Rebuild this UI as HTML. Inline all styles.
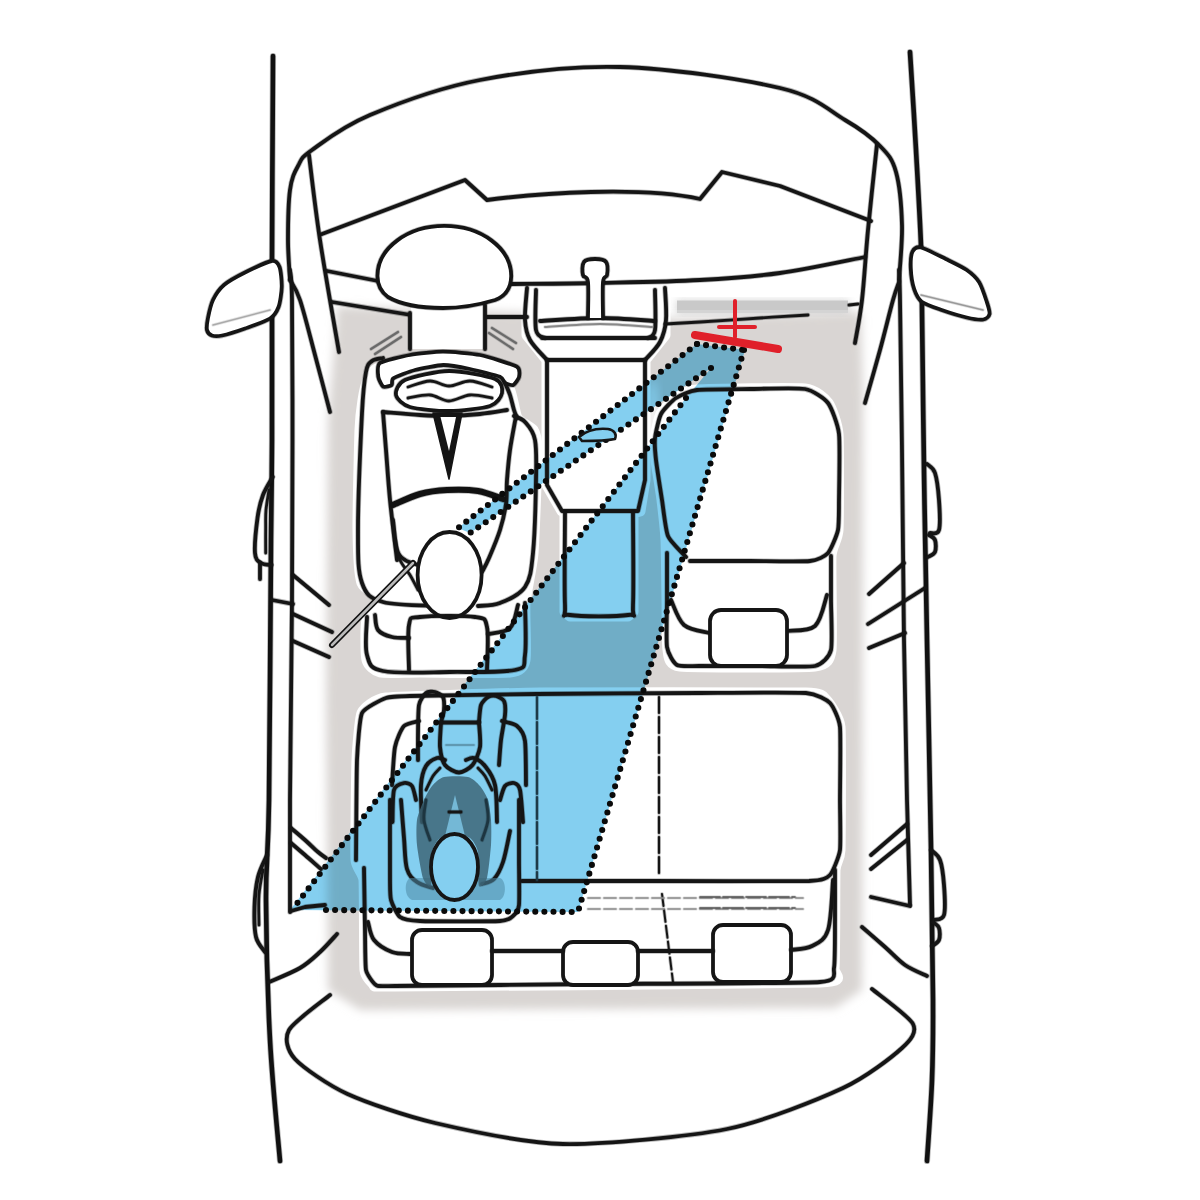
<!DOCTYPE html>
<html><head><meta charset="utf-8"><style>
html,body{margin:0;padding:0;background:#fff;width:1200px;height:1200px;overflow:hidden}
svg{display:block}
.k{fill:none;stroke:#151515;stroke-width:3.8;stroke-linecap:round;stroke-linejoin:round}
.kw{fill:#fff;stroke:#151515;stroke-width:3.8;stroke-linecap:round;stroke-linejoin:round}
.kt{fill:none;stroke:#151515;stroke-width:2.8;stroke-linecap:round;stroke-linejoin:round}
.kT{fill:none;stroke:#111;stroke-width:4.6;stroke-linecap:round;stroke-linejoin:round}
.d{fill:none;stroke:#0a0a0a;stroke-width:6.1;stroke-linecap:round;stroke-dasharray:0 9.1}
.w{fill:#fff;stroke:none}
.bm{mix-blend-mode:multiply}
</style></head><body>
<svg width="1200" height="1200" viewBox="0 0 1200 1200">
<defs>
<filter id="bl" x="-10%" y="-10%" width="120%" height="120%"><feGaussianBlur stdDeviation="5"/></filter>
<filter id="soft" x="0" y="0" width="100%" height="100%"><feGaussianBlur stdDeviation="0.75"/></filter>
<filter id="bl2" x="-20%" y="-20%" width="140%" height="140%"><feGaussianBlur stdDeviation="4"/></filter>
</defs>
<rect width="1200" height="1200" fill="#fff"/>
<g filter="url(#bl)">
<path d="M337.0,306.0 L672.0,318.0 L861.0,312.0 L863.0,400.0 L862.0,990.0 L835.0,1008.0 L360.0,1010.0 L328.0,990.0 L326.0,700.0 L328.0,420.0 L334.0,350.0Z" fill="#d9d5d3"/>
</g>
<rect x="676" y="300" width="173" height="14" fill="#c8c8c8" filter="url(#bl2)" opacity="0.7"/>
<rect x="677" y="300.5" width="171" height="12.5" fill="#c9c9c9"/>
<rect x="677" y="310" width="171" height="3" fill="#d4d4d4"/>
<ellipse cx="653" cy="425" rx="7" ry="45" fill="#f4f3f2" filter="url(#bl2)"/>
<path d="M380.0,368.0 C371.8,368.8 369.7,376.8 368.0,380.0 C366.3,383.2 363.8,395.0 363.0,400.0 C362.2,405.0 360.5,417.0 360.0,430.0 C359.5,443.0 357.8,514.7 358.0,530.0 C358.2,545.3 359.5,575.8 362.0,583.0 C364.5,590.2 382.5,598.3 383.0,602.0 C383.5,605.7 368.6,614.2 367.0,620.0 C365.4,625.8 365.7,654.8 367.0,660.0 C368.3,665.2 374.7,670.8 380.0,672.0 C385.3,673.2 407.0,672.0 420.0,672.0 C433.0,672.0 499.5,673.2 510.0,672.0 C520.5,670.8 523.5,666.9 525.0,660.0 C526.5,653.1 524.2,613.7 525.0,603.0 C525.8,592.3 531.8,568.3 533.0,553.0 C534.2,537.7 537.0,462.3 537.0,450.0 C537.0,437.7 535.0,433.2 533.0,430.0 C531.0,426.8 519.8,422.8 517.0,418.0 C514.2,413.2 511.7,386.6 505.0,382.0 C498.3,377.4 462.5,373.4 450.0,372.0 C437.5,370.6 388.2,367.2 380.0,368.0Z" fill="#fff" stroke="#fff" stroke-width="11" stroke-linejoin="round"/>
<path d="M697.0,390.0 C686.2,390.8 679.0,396.0 676.0,398.0 C673.0,400.0 662.8,410.7 661.0,414.0 C659.2,417.3 655.4,434.2 655.0,438.0 C654.6,441.8 655.4,454.8 656.0,460.0 C656.6,465.2 661.2,493.3 662.0,500.0 C662.8,506.7 665.6,531.7 666.0,540.0 C666.4,548.3 666.8,590.8 667.0,600.0 C667.2,609.2 666.9,644.5 668.0,650.0 C669.1,655.5 667.8,664.7 680.0,666.0 C692.2,667.3 802.4,667.3 815.0,666.0 C827.6,664.7 829.7,659.2 831.0,650.0 C832.3,640.8 830.4,566.0 831.0,556.0 C831.6,546.0 837.4,540.2 838.0,530.0 C838.6,519.8 838.8,444.6 838.0,434.0 C837.2,423.4 830.8,406.8 828.0,403.0 C825.2,399.2 815.9,390.1 805.0,389.0 C794.1,387.9 707.8,389.2 697.0,390.0Z" fill="#fff" stroke="#fff" stroke-width="11" stroke-linejoin="round"/>
<path d="M527.0,288.0 L665.0,288.0 L665.0,335.0 L645.0,360.0 L645.0,480.0 L640.0,511.0 L633.0,513.0 L633.0,612.0 L628.0,616.0 L570.0,616.0 L565.0,612.0 L565.0,513.0 L562.0,511.0 L547.0,485.0 L547.0,360.0 L527.0,335.0Z" fill="#fff" stroke="#fff" stroke-width="11" stroke-linejoin="round"/>
<path d="M386.0,698.0 C374.1,699.3 363.9,708.9 362.0,713.0 C360.1,717.1 357.4,750.2 357.0,760.0 C356.6,769.8 355.5,852.0 356.0,860.0 C356.5,868.0 363.4,872.7 364.0,880.0 C364.6,887.3 364.3,963.0 365.0,970.0 C365.7,977.0 373.0,983.9 375.0,985.0 C377.0,986.1 365.3,986.2 395.0,986.0 C424.7,985.8 790.7,983.2 820.0,982.0 C849.3,980.8 833.0,975.5 834.0,968.0 C835.0,960.5 834.6,877.9 835.0,870.0 C835.4,862.1 839.7,859.5 840.0,850.0 C840.3,840.5 840.9,737.0 840.0,727.0 C839.1,717.0 828.3,702.3 826.0,700.0 C823.7,697.7 825.1,693.5 806.0,693.0 C786.9,692.5 568.0,692.7 540.0,693.0 C512.0,693.3 397.9,696.7 386.0,698.0Z" fill="#fff" stroke="#fff" stroke-width="11" stroke-linejoin="round"/>
<g class="bm">
<path d="M697.0,344.0 L745.0,350.0 L578.0,912.0 L290.0,910.0 L686.0,398.0 L711.0,368.0Z M697.0,344.0 L711.0,368.0 L470.0,533.0 L458.0,528.0Z" fill="#84cff0" fill-rule="nonzero"/>
</g>
<path d="M273.0,56.0 C272.9,71.7 272.7,116.0 272.5,150.0 C272.3,184.0 272.1,211.7 272.0,260.0 C271.9,308.3 272.2,393.3 272.0,440.0 C271.8,486.7 271.5,480.0 271.0,540.0 C270.5,600.0 269.8,740.0 269.0,800.0 C268.2,860.0 265.8,860.0 266.0,900.0 C266.2,940.0 267.7,996.5 270.0,1040.0 C272.3,1083.5 278.3,1140.8 280.0,1161.0" style="fill:none;stroke:#151515;stroke-width:6.20;opacity:0.30;stroke-linecap:round;stroke-linejoin:round"/>
<path class="kT" d="M273.0,56.0 C272.9,71.7 272.7,116.0 272.5,150.0 C272.3,184.0 272.1,211.7 272.0,260.0 C271.9,308.3 272.2,393.3 272.0,440.0 C271.8,486.7 271.5,480.0 271.0,540.0 C270.5,600.0 269.8,740.0 269.0,800.0 C268.2,860.0 265.8,860.0 266.0,900.0 C266.2,940.0 267.7,996.5 270.0,1040.0 C272.3,1083.5 278.3,1140.8 280.0,1161.0"/>
<path d="M910.0,52.0 C911.0,68.3 914.2,117.7 916.0,150.0 C917.8,182.3 920.0,219.3 921.0,246.0 C922.0,272.7 921.5,272.7 922.0,310.0 C922.5,347.3 923.2,415.0 924.0,470.0 C924.8,525.0 925.8,577.0 927.0,640.0 C928.2,703.0 930.0,788.0 931.0,848.0 C932.0,908.0 932.8,961.3 933.0,1000.0 C933.2,1038.7 933.0,1053.2 932.0,1080.0 C931.0,1106.8 927.8,1147.5 927.0,1161.0" style="fill:none;stroke:#151515;stroke-width:6.20;opacity:0.30;stroke-linecap:round;stroke-linejoin:round"/>
<path class="kT" d="M910.0,52.0 C911.0,68.3 914.2,117.7 916.0,150.0 C917.8,182.3 920.0,219.3 921.0,246.0 C922.0,272.7 921.5,272.7 922.0,310.0 C922.5,347.3 923.2,415.0 924.0,470.0 C924.8,525.0 925.8,577.0 927.0,640.0 C928.2,703.0 930.0,788.0 931.0,848.0 C932.0,908.0 932.8,961.3 933.0,1000.0 C933.2,1038.7 933.0,1053.2 932.0,1080.0 C931.0,1106.8 927.8,1147.5 927.0,1161.0"/>
<path d="M290.0,280.0 C289.7,273.3 288.0,255.0 288.0,240.0 C288.0,225.0 288.3,202.3 290.0,190.0 C291.7,177.7 294.3,172.7 298.0,166.0 C301.7,159.3 300.0,158.5 312.0,150.0 C324.0,141.5 342.0,126.7 370.0,115.0 C398.0,103.3 438.3,88.0 480.0,80.0 C521.7,72.0 570.0,65.7 620.0,67.0 C670.0,68.3 742.5,79.2 780.0,88.0 C817.5,96.8 828.3,110.3 845.0,120.0 C861.7,129.7 871.5,137.3 880.0,146.0 C888.5,154.7 892.3,158.8 896.0,172.0 C899.7,185.2 901.5,207.0 902.0,225.0 C902.5,243.0 899.5,270.8 899.0,280.0" style="fill:none;stroke:#151515;stroke-width:5.40;opacity:0.30;stroke-linecap:round;stroke-linejoin:round"/>
<path class="k" d="M290.0,280.0 C289.7,273.3 288.0,255.0 288.0,240.0 C288.0,225.0 288.3,202.3 290.0,190.0 C291.7,177.7 294.3,172.7 298.0,166.0 C301.7,159.3 300.0,158.5 312.0,150.0 C324.0,141.5 342.0,126.7 370.0,115.0 C398.0,103.3 438.3,88.0 480.0,80.0 C521.7,72.0 570.0,65.7 620.0,67.0 C670.0,68.3 742.5,79.2 780.0,88.0 C817.5,96.8 828.3,110.3 845.0,120.0 C861.7,129.7 871.5,137.3 880.0,146.0 C888.5,154.7 892.3,158.8 896.0,172.0 C899.7,185.2 901.5,207.0 902.0,225.0 C902.5,243.0 899.5,270.8 899.0,280.0"/>
<path d="M290.0,270.0 C290.3,275.0 291.6,271.7 292.0,300.0 C292.4,328.3 292.5,390.0 292.5,440.0 C292.5,490.0 292.4,540.0 292.0,600.0 C291.6,660.0 290.3,748.0 290.0,800.0 C289.7,852.0 290.0,893.3 290.0,912.0" style="fill:none;stroke:#151515;stroke-width:5.40;opacity:0.30;stroke-linecap:round;stroke-linejoin:round"/>
<path class="k" d="M290.0,270.0 C290.3,275.0 291.6,271.7 292.0,300.0 C292.4,328.3 292.5,390.0 292.5,440.0 C292.5,490.0 292.4,540.0 292.0,600.0 C291.6,660.0 290.3,748.0 290.0,800.0 C289.7,852.0 290.0,893.3 290.0,912.0"/>
<path d="M899.0,270.0 C899.2,275.0 899.5,270.0 900.0,300.0 C900.5,330.0 901.3,393.3 902.0,450.0 C902.7,506.7 903.2,581.7 904.0,640.0 C904.8,698.3 906.0,755.8 907.0,800.0 C908.0,844.2 909.5,887.5 910.0,905.0" style="fill:none;stroke:#151515;stroke-width:5.40;opacity:0.30;stroke-linecap:round;stroke-linejoin:round"/>
<path class="k" d="M899.0,270.0 C899.2,275.0 899.5,270.0 900.0,300.0 C900.5,330.0 901.3,393.3 902.0,450.0 C902.7,506.7 903.2,581.7 904.0,640.0 C904.8,698.3 906.0,755.8 907.0,800.0 C908.0,844.2 909.5,887.5 910.0,905.0"/>
<path d="M290.0,280.0 C291.7,283.3 295.8,287.5 300.0,300.0 C304.2,312.5 310.0,336.3 315.0,355.0 C320.0,373.7 327.5,402.5 330.0,412.0" style="fill:none;stroke:#151515;stroke-width:5.40;opacity:0.30;stroke-linecap:round;stroke-linejoin:round"/>
<path class="k" d="M290.0,280.0 C291.7,283.3 295.8,287.5 300.0,300.0 C304.2,312.5 310.0,336.3 315.0,355.0 C320.0,373.7 327.5,402.5 330.0,412.0"/>
<path d="M899.0,282.0 C898.0,285.0 896.2,288.7 893.0,300.0 C889.8,311.3 884.7,332.8 880.0,350.0 C875.3,367.2 867.5,394.2 865.0,403.0" style="fill:none;stroke:#151515;stroke-width:5.40;opacity:0.30;stroke-linecap:round;stroke-linejoin:round"/>
<path class="k" d="M899.0,282.0 C898.0,285.0 896.2,288.7 893.0,300.0 C889.8,311.3 884.7,332.8 880.0,350.0 C875.3,367.2 867.5,394.2 865.0,403.0"/>
<path d="M309.0,155.0 C310.8,169.2 315.0,207.2 320.0,240.0 C325.0,272.8 335.8,333.3 339.0,352.0" style="fill:none;stroke:#151515;stroke-width:5.40;opacity:0.30;stroke-linecap:round;stroke-linejoin:round"/>
<path class="k" d="M309.0,155.0 C310.8,169.2 315.0,207.2 320.0,240.0 C325.0,272.8 335.8,333.3 339.0,352.0"/>
<path d="M877.0,144.0 C875.5,158.3 870.5,204.0 868.0,230.0 C865.5,256.0 864.2,281.2 862.0,300.0 C859.8,318.8 856.2,335.8 855.0,343.0" style="fill:none;stroke:#151515;stroke-width:5.40;opacity:0.30;stroke-linecap:round;stroke-linejoin:round"/>
<path class="k" d="M877.0,144.0 C875.5,158.3 870.5,204.0 868.0,230.0 C865.5,256.0 864.2,281.2 862.0,300.0 C859.8,318.8 856.2,335.8 855.0,343.0"/>
<path d="M322.0,234.0 L465.0,180.0 L487.0,200.0  C540,193 640,186 700,199 L722,172 L780,186 L871,221" style="fill:none;stroke:#151515;stroke-width:5.40;opacity:0.30;stroke-linecap:round;stroke-linejoin:round"/>
<path class="k" d="M322.0,234.0 L465.0,180.0 L487.0,200.0  C540,193 640,186 700,199 L722,172 L780,186 L871,221"/>
<path d="M327.0,271.0 L378.0,281.0" style="fill:none;stroke:#151515;stroke-width:5.40;opacity:0.30;stroke-linecap:round;stroke-linejoin:round"/>
<path class="k" d="M327.0,271.0 L378.0,281.0"/>
<path d="M510.0,284.0 C525.0,283.8 568.3,283.7 600.0,283.0 C631.7,282.3 670.0,281.7 700.0,280.0 C730.0,278.3 752.5,276.8 780.0,273.0 C807.5,269.2 850.8,259.7 865.0,257.0" style="fill:none;stroke:#151515;stroke-width:5.40;opacity:0.30;stroke-linecap:round;stroke-linejoin:round"/>
<path class="k" d="M510.0,284.0 C525.0,283.8 568.3,283.7 600.0,283.0 C631.7,282.3 670.0,281.7 700.0,280.0 C730.0,278.3 752.5,276.8 780.0,273.0 C807.5,269.2 850.8,259.7 865.0,257.0"/>
<path d="M332.0,302.0 L411.0,315.0" style="fill:none;stroke:#151515;stroke-width:5.40;opacity:0.30;stroke-linecap:round;stroke-linejoin:round"/>
<path class="k" d="M332.0,302.0 L411.0,315.0"/>
<path d="M485.0,317.0 L527.0,317.0" style="fill:none;stroke:#151515;stroke-width:5.40;opacity:0.30;stroke-linecap:round;stroke-linejoin:round"/>
<path class="k" d="M485.0,317.0 L527.0,317.0"/>
<path d="M665.0,324.0 C670.8,323.7 684.2,323.0 700.0,322.0 C715.8,321.0 742.0,319.2 760.0,318.0 C778.0,316.8 800.0,315.5 808.0,315.0" style="fill:none;stroke:#151515;stroke-width:4.40;opacity:0.30;stroke-linecap:round;stroke-linejoin:round"/>
<path class="kt" d="M665.0,324.0 C670.8,323.7 684.2,323.0 700.0,322.0 C715.8,321.0 742.0,319.2 760.0,318.0 C778.0,316.8 800.0,315.5 808.0,315.0"/>
<path d="M849,305 L858,304" style="fill:none;stroke:#151515;stroke-width:4.40;opacity:0.30;stroke-linecap:round;stroke-linejoin:round"/>
<path class="kt" d="M849,305 L858,304"/>
<path d="M271.7,261.0 C267.1,261.7 251.4,269.3 245.0,272.5 C238.6,275.7 228.3,281.3 224.0,285.0 C219.7,288.7 215.1,295.6 213.0,300.0 C210.9,304.4 208.8,314.0 208.0,318.0 C207.2,322.0 206.5,327.7 207.0,330.0 C207.5,332.3 210.0,334.8 212.0,335.5 C214.0,336.2 217.6,336.4 222.0,335.5 C226.4,334.6 238.6,330.8 245.0,328.5 C251.4,326.2 265.5,321.4 270.0,318.5 C274.5,315.6 276.9,311.2 278.5,307.0 C280.1,302.8 281.6,292.0 281.7,286.7 C281.8,281.4 280.8,270.4 279.5,267.0 C278.2,263.6 276.3,260.3 271.7,261.0Z" style="fill:none;stroke:#151515;stroke-width:5.40;opacity:0.30;stroke-linecap:round;stroke-linejoin:round"/>
<path class="kw" d="M271.7,261.0 C267.1,261.7 251.4,269.3 245.0,272.5 C238.6,275.7 228.3,281.3 224.0,285.0 C219.7,288.7 215.1,295.6 213.0,300.0 C210.9,304.4 208.8,314.0 208.0,318.0 C207.2,322.0 206.5,327.7 207.0,330.0 C207.5,332.3 210.0,334.8 212.0,335.5 C214.0,336.2 217.6,336.4 222.0,335.5 C226.4,334.6 238.6,330.8 245.0,328.5 C251.4,326.2 265.5,321.4 270.0,318.5 C274.5,315.6 276.9,311.2 278.5,307.0 C280.1,302.8 281.6,292.0 281.7,286.7 C281.8,281.4 280.8,270.4 279.5,267.0 C278.2,263.6 276.3,260.3 271.7,261.0Z"/>
<path d="M213,325 L270,310" style="fill:none;stroke:#aaa;stroke-width:3.10;opacity:0.30;stroke-linecap:round;stroke-linejoin:round"/>
<path class="kt" d="M213,325 L270,310" style="stroke:#aaa;stroke-width:1.5"/>
<path d="M921.0,247.5 C925.4,248.5 939.7,256.0 945.8,259.0 C951.9,262.0 962.3,266.9 966.7,270.0 C971.1,273.1 976.3,277.8 979.0,282.0 C981.7,286.2 985.3,297.4 986.7,301.7 C988.1,306.0 990.0,311.6 989.5,314.0 C989.0,316.4 986.3,319.0 983.3,319.5 C980.3,320.0 972.2,318.8 966.7,317.5 C961.2,316.2 947.7,312.1 941.7,310.0 C935.7,307.9 925.4,304.5 921.7,301.7 C918.0,298.9 915.7,293.7 914.2,289.2 C912.7,284.7 911.0,273.3 910.8,268.3 C910.6,263.3 911.1,254.5 912.5,251.7 C913.9,248.9 916.6,246.5 921.0,247.5Z" style="fill:none;stroke:#151515;stroke-width:5.40;opacity:0.30;stroke-linecap:round;stroke-linejoin:round"/>
<path class="kw" d="M921.0,247.5 C925.4,248.5 939.7,256.0 945.8,259.0 C951.9,262.0 962.3,266.9 966.7,270.0 C971.1,273.1 976.3,277.8 979.0,282.0 C981.7,286.2 985.3,297.4 986.7,301.7 C988.1,306.0 990.0,311.6 989.5,314.0 C989.0,316.4 986.3,319.0 983.3,319.5 C980.3,320.0 972.2,318.8 966.7,317.5 C961.2,316.2 947.7,312.1 941.7,310.0 C935.7,307.9 925.4,304.5 921.7,301.7 C918.0,298.9 915.7,293.7 914.2,289.2 C912.7,284.7 911.0,273.3 910.8,268.3 C910.6,263.3 911.1,254.5 912.5,251.7 C913.9,248.9 916.6,246.5 921.0,247.5Z"/>
<path d="M921,295 L983,310" style="fill:none;stroke:#999;stroke-width:3.10;opacity:0.30;stroke-linecap:round;stroke-linejoin:round"/>
<path class="kt" d="M921,295 L983,310" style="stroke:#999;stroke-width:1.5"/>
<path class="w" d="M411,300 L485,300 L485,349 L411,349 Z"/>
<path d="M377.5,276 A66.8,50 0 0 1 511.2,276 C511,288 506,296 495,300 C475,306 460,308 443,308 C420,308 400,304 388,297 C380,291 377.5,284 377.5,276 Z" style="fill:none;stroke:#151515;stroke-width:5.40;opacity:0.30;stroke-linecap:round;stroke-linejoin:round"/>
<path class="kw" d="M377.5,276 A66.8,50 0 0 1 511.2,276 C511,288 506,296 495,300 C475,306 460,308 443,308 C420,308 400,304 388,297 C380,291 377.5,284 377.5,276 Z"/>
<path d="M410.0,313.0 L410.0,349.0" style="fill:none;stroke:#151515;stroke-width:5.40;opacity:0.30;stroke-linecap:round;stroke-linejoin:round"/>
<path class="k" d="M410.0,313.0 L410.0,349.0"/>
<path d="M485.0,305.0 L485.0,349.0" style="fill:none;stroke:#151515;stroke-width:5.40;opacity:0.30;stroke-linecap:round;stroke-linejoin:round"/>
<path class="k" d="M485.0,305.0 L485.0,349.0"/>
<path d="M527.0,288.0 C526.7,293.3 524.5,311.3 525.0,320.0 C525.5,328.7 526.3,333.3 530.0,340.0 C533.7,346.7 544.2,356.7 547.0,360.0" style="fill:none;stroke:#151515;stroke-width:5.40;opacity:0.30;stroke-linecap:round;stroke-linejoin:round"/>
<path class="k" d="M527.0,288.0 C526.7,293.3 524.5,311.3 525.0,320.0 C525.5,328.7 526.3,333.3 530.0,340.0 C533.7,346.7 544.2,356.7 547.0,360.0"/>
<path d="M665.0,288.0 C665.2,293.3 666.8,311.0 666.0,320.0 C665.2,329.0 663.5,335.3 660.0,342.0 C656.5,348.7 647.5,357.0 645.0,360.0" style="fill:none;stroke:#151515;stroke-width:5.40;opacity:0.30;stroke-linecap:round;stroke-linejoin:round"/>
<path class="k" d="M665.0,288.0 C665.2,293.3 666.8,311.0 666.0,320.0 C665.2,329.0 663.5,335.3 660.0,342.0 C656.5,348.7 647.5,357.0 645.0,360.0"/>
<path d="M536.0,290.0 C536.0,296.7 534.5,322.0 536.0,330.0 C537.5,338.0 543.5,336.7 545.0,338.0" style="fill:none;stroke:#151515;stroke-width:5.40;opacity:0.30;stroke-linecap:round;stroke-linejoin:round"/>
<path class="k" d="M536.0,290.0 C536.0,296.7 534.5,322.0 536.0,330.0 C537.5,338.0 543.5,336.7 545.0,338.0"/>
<path d="M655.0,290.0 C655.0,296.7 656.2,322.0 655.0,330.0 C653.8,338.0 649.2,336.7 648.0,338.0" style="fill:none;stroke:#151515;stroke-width:5.40;opacity:0.30;stroke-linecap:round;stroke-linejoin:round"/>
<path class="k" d="M655.0,290.0 C655.0,296.7 656.2,322.0 655.0,330.0 C653.8,338.0 649.2,336.7 648.0,338.0"/>
<path d="M540.0,321.0 C550.0,320.5 580.8,318.0 600.0,318.0 C619.2,318.0 645.8,320.5 655.0,321.0" style="fill:none;stroke:#151515;stroke-width:5.40;opacity:0.30;stroke-linecap:round;stroke-linejoin:round"/>
<path class="k" d="M540.0,321.0 C550.0,320.5 580.8,318.0 600.0,318.0 C619.2,318.0 645.8,320.5 655.0,321.0"/>
<path d="M542.0,338.0 L655.0,338.0" style="fill:none;stroke:#151515;stroke-width:5.40;opacity:0.30;stroke-linecap:round;stroke-linejoin:round"/>
<path class="k" d="M542.0,338.0 L655.0,338.0"/>
<path d="M545.0,327.0 C554.2,326.5 582.2,324.0 600.0,324.0 C617.8,324.0 643.3,326.5 652.0,327.0" style="fill:none;stroke:#888;stroke-width:3.60;opacity:0.30;stroke-linecap:round;stroke-linejoin:round"/>
<path class="kt" d="M545.0,327.0 C554.2,326.5 582.2,324.0 600.0,324.0 C617.8,324.0 643.3,326.5 652.0,327.0" style="stroke:#888;stroke-width:2"/>
<path d="M588.0,318.0 C588.0,312.0 588.8,289.2 588.0,282.0 C587.2,274.8 583.7,278.3 583.0,275.0 C582.3,271.7 582.0,264.7 584.0,262.0 C586.0,259.3 591.3,259.0 595.0,259.0 C598.7,259.0 604.0,259.3 606.0,262.0 C608.0,264.7 607.5,271.7 607.0,275.0 C606.5,278.3 603.7,274.8 603.0,282.0 C602.3,289.2 603.0,312.0 603.0,318.0" style="fill:none;stroke:#151515;stroke-width:5.40;opacity:0.30;stroke-linecap:round;stroke-linejoin:round"/>
<path class="kw" d="M588.0,318.0 C588.0,312.0 588.8,289.2 588.0,282.0 C587.2,274.8 583.7,278.3 583.0,275.0 C582.3,271.7 582.0,264.7 584.0,262.0 C586.0,259.3 591.3,259.0 595.0,259.0 C598.7,259.0 604.0,259.3 606.0,262.0 C608.0,264.7 607.5,271.7 607.0,275.0 C606.5,278.3 603.7,274.8 603.0,282.0 C602.3,289.2 603.0,312.0 603.0,318.0"/>
<path d="M547.0,360.0 L645.0,360.0" style="fill:none;stroke:#151515;stroke-width:5.40;opacity:0.30;stroke-linecap:round;stroke-linejoin:round"/>
<path class="k" d="M547.0,360.0 L645.0,360.0"/>
<path d="M547.0,360.0 L547.0,485.0 L562.0,511.0 L638.0,511.0 L645.0,480.0 L645.0,360.0" style="fill:none;stroke:#151515;stroke-width:5.40;opacity:0.30;stroke-linecap:round;stroke-linejoin:round"/>
<path class="k" d="M547.0,360.0 L547.0,485.0 L562.0,511.0 L638.0,511.0 L645.0,480.0 L645.0,360.0"/>
<path d="M565.0,513.0 C565.0,528.3 564.2,588.0 565.0,605.0 C565.8,622.0 559.5,613.3 570.0,615.0 C580.5,616.7 617.5,616.7 628.0,615.0 C638.5,613.3 632.2,622.0 633.0,605.0 C633.8,588.0 633.0,528.3 633.0,513.0" style="fill:none;stroke:#151515;stroke-width:5.40;opacity:0.30;stroke-linecap:round;stroke-linejoin:round"/>
<path class="k" d="M565.0,513.0 C565.0,528.3 564.2,588.0 565.0,605.0 C565.8,622.0 559.5,613.3 570.0,615.0 C580.5,616.7 617.5,616.7 628.0,615.0 C638.5,613.3 632.2,622.0 633.0,605.0 C633.8,588.0 633.0,528.3 633.0,513.0"/>
<path d="M371,349 L398,332 M375,354 L401,337" style="fill:none;stroke:#6a6a6a;stroke-width:3.80;opacity:0.30;stroke-linecap:round;stroke-linejoin:round"/>
<path class="kt" d="M371,349 L398,332 M375,354 L401,337" style="stroke:#6a6a6a;stroke-width:2.2"/>
<path d="M489,333 L513,349 M492,328 L516,343" style="fill:none;stroke:#6a6a6a;stroke-width:3.80;opacity:0.30;stroke-linecap:round;stroke-linejoin:round"/>
<path class="kt" d="M489,333 L513,349 M492,328 L516,343" style="stroke:#6a6a6a;stroke-width:2.2"/>
<path d="M380.0,363.0 C383.2,360.8 403.7,356.1 410.0,355.0 C416.3,353.9 436.0,351.7 443.0,351.7 C450.0,351.7 472.6,353.5 480.0,355.0 C487.4,356.5 512.8,364.5 516.7,366.7 C520.6,368.9 519.3,375.2 519.0,377.0 C518.7,378.8 514.7,384.4 513.3,385.0 C511.9,385.6 506.3,383.8 505.0,383.0 C503.7,382.2 503.5,378.1 500.0,376.7 C496.5,375.3 475.7,370.2 470.0,369.0 C464.3,367.8 448.8,364.9 443.3,365.0 C437.8,365.1 420.0,368.7 415.0,370.0 C410.0,371.3 395.6,376.8 393.3,378.3 C391.0,379.8 392.7,384.2 391.7,385.0 C390.7,385.8 384.6,387.5 383.3,386.7 C382.0,385.9 378.6,379.1 378.3,376.7 C378.0,374.3 376.8,365.2 380.0,363.0Z" style="fill:none;stroke:#151515;stroke-width:5.40;opacity:0.30;stroke-linecap:round;stroke-linejoin:round"/>
<path class="kw" d="M380.0,363.0 C383.2,360.8 403.7,356.1 410.0,355.0 C416.3,353.9 436.0,351.7 443.0,351.7 C450.0,351.7 472.6,353.5 480.0,355.0 C487.4,356.5 512.8,364.5 516.7,366.7 C520.6,368.9 519.3,375.2 519.0,377.0 C518.7,378.8 514.7,384.4 513.3,385.0 C511.9,385.6 506.3,383.8 505.0,383.0 C503.7,382.2 503.5,378.1 500.0,376.7 C496.5,375.3 475.7,370.2 470.0,369.0 C464.3,367.8 448.8,364.9 443.3,365.0 C437.8,365.1 420.0,368.7 415.0,370.0 C410.0,371.3 395.6,376.8 393.3,378.3 C391.0,379.8 392.7,384.2 391.7,385.0 C390.7,385.8 384.6,387.5 383.3,386.7 C382.0,385.9 378.6,379.1 378.3,376.7 C378.0,374.3 376.8,365.2 380.0,363.0Z"/>
<path d="M396.0,395.0 C395.3,391.4 397.9,383.2 405.0,380.0 C412.1,376.8 437.0,371.1 449.0,371.0 C461.0,370.9 487.9,376.1 495.0,379.0 C502.1,381.9 502.7,389.4 502.0,393.0 C501.3,396.6 497.1,403.6 490.0,406.0 C482.9,408.4 459.7,410.9 449.0,411.0 C438.3,411.1 417.1,409.1 410.0,407.0 C402.9,404.9 396.7,398.6 396.0,395.0Z" style="fill:none;stroke:#151515;stroke-width:5.40;opacity:0.30;stroke-linecap:round;stroke-linejoin:round"/>
<path class="kw" d="M396.0,395.0 C395.3,391.4 397.9,383.2 405.0,380.0 C412.1,376.8 437.0,371.1 449.0,371.0 C461.0,370.9 487.9,376.1 495.0,379.0 C502.1,381.9 502.7,389.4 502.0,393.0 C501.3,396.6 497.1,403.6 490.0,406.0 C482.9,408.4 459.7,410.9 449.0,411.0 C438.3,411.1 417.1,409.1 410.0,407.0 C402.9,404.9 396.7,398.6 396.0,395.0Z"/>
<path d="M408.0,387.0 C411.7,386.0 423.2,381.2 430.0,381.0 C436.8,380.8 442.3,386.0 449.0,386.0 C455.7,386.0 462.8,380.8 470.0,381.0 C477.2,381.2 488.3,386.0 492.0,387.0" style="fill:none;stroke:#151515;stroke-width:4.40;opacity:0.30;stroke-linecap:round;stroke-linejoin:round"/>
<path class="kt" d="M408.0,387.0 C411.7,386.0 423.2,381.2 430.0,381.0 C436.8,380.8 442.3,386.0 449.0,386.0 C455.7,386.0 462.8,380.8 470.0,381.0 C477.2,381.2 488.3,386.0 492.0,387.0"/>
<path d="M408.0,398.0 C411.7,397.5 423.2,394.5 430.0,395.0 C436.8,395.5 442.3,401.0 449.0,401.0 C455.7,401.0 462.8,395.5 470.0,395.0 C477.2,394.5 488.3,397.5 492.0,398.0" style="fill:none;stroke:#151515;stroke-width:4.40;opacity:0.30;stroke-linecap:round;stroke-linejoin:round"/>
<path class="kt" d="M408.0,398.0 C411.7,397.5 423.2,394.5 430.0,395.0 C436.8,395.5 442.3,401.0 449.0,401.0 C455.7,401.0 462.8,395.5 470.0,395.0 C477.2,394.5 488.3,397.5 492.0,398.0"/>
<path d="M383.0,358.0 C381.2,358.5 374.8,358.7 372.0,361.0 C369.2,363.3 367.7,363.3 366.0,372.0 C364.3,380.7 363.3,386.7 362.0,413.0 C360.7,439.3 358.0,501.7 358.0,530.0 C358.0,558.3 357.8,571.0 362.0,583.0 C366.2,595.0 370.0,598.2 383.0,602.0 C396.0,605.8 430.5,605.3 440.0,606.0" style="fill:none;stroke:#151515;stroke-width:5.40;opacity:0.30;stroke-linecap:round;stroke-linejoin:round"/>
<path class="k" d="M383.0,358.0 C381.2,358.5 374.8,358.7 372.0,361.0 C369.2,363.3 367.7,363.3 366.0,372.0 C364.3,380.7 363.3,386.7 362.0,413.0 C360.7,439.3 358.0,501.7 358.0,530.0 C358.0,558.3 357.8,571.0 362.0,583.0 C366.2,595.0 370.0,598.2 383.0,602.0 C396.0,605.8 430.5,605.3 440.0,606.0"/>
<path d="M505.0,383.0 C505.8,385.0 508.5,390.5 510.0,395.0 C511.5,399.5 512.8,406.2 514.0,410.0 C515.2,413.8 516.5,416.7 517.0,418.0" style="fill:none;stroke:#151515;stroke-width:5.40;opacity:0.30;stroke-linecap:round;stroke-linejoin:round"/>
<path class="k" d="M505.0,383.0 C505.8,385.0 508.5,390.5 510.0,395.0 C511.5,399.5 512.8,406.2 514.0,410.0 C515.2,413.8 516.5,416.7 517.0,418.0"/>
<path d="M478.0,606.0 C481.7,605.5 492.2,606.2 500.0,603.0 C507.8,599.8 519.5,595.3 525.0,587.0 C530.5,578.7 531.2,570.8 533.0,553.0 C534.8,535.2 535.7,498.8 536.0,480.0 C536.3,461.2 536.8,449.7 535.0,440.0 C533.2,430.3 528.5,426.0 525.0,422.0 C521.5,418.0 515.8,417.0 514.0,416.0" style="fill:none;stroke:#151515;stroke-width:5.40;opacity:0.30;stroke-linecap:round;stroke-linejoin:round"/>
<path class="k" d="M478.0,606.0 C481.7,605.5 492.2,606.2 500.0,603.0 C507.8,599.8 519.5,595.3 525.0,587.0 C530.5,578.7 531.2,570.8 533.0,553.0 C534.8,535.2 535.7,498.8 536.0,480.0 C536.3,461.2 536.8,449.7 535.0,440.0 C533.2,430.3 528.5,426.0 525.0,422.0 C521.5,418.0 515.8,417.0 514.0,416.0"/>
<path d="M383.0,412.0 C383.5,418.3 384.8,435.3 386.0,450.0 C387.2,464.7 388.2,481.7 390.0,500.0 C391.8,518.3 395.8,550.0 397.0,560.0" style="fill:none;stroke:#151515;stroke-width:5.40;opacity:0.30;stroke-linecap:round;stroke-linejoin:round"/>
<path class="k" d="M383.0,412.0 C383.5,418.3 384.8,435.3 386.0,450.0 C387.2,464.7 388.2,481.7 390.0,500.0 C391.8,518.3 395.8,550.0 397.0,560.0"/>
<path d="M516.0,416.0 C515.0,421.7 511.5,439.3 510.0,450.0 C508.5,460.7 507.7,471.0 507.0,480.0 C506.3,489.0 507.2,495.7 506.0,504.0 C504.8,512.3 502.8,521.0 500.0,530.0 C497.2,539.0 492.0,551.0 489.0,558.0 C486.0,565.0 483.2,569.7 482.0,572.0" style="fill:none;stroke:#151515;stroke-width:5.40;opacity:0.30;stroke-linecap:round;stroke-linejoin:round"/>
<path class="k" d="M516.0,416.0 C515.0,421.7 511.5,439.3 510.0,450.0 C508.5,460.7 507.7,471.0 507.0,480.0 C506.3,489.0 507.2,495.7 506.0,504.0 C504.8,512.3 502.8,521.0 500.0,530.0 C497.2,539.0 492.0,551.0 489.0,558.0 C486.0,565.0 483.2,569.7 482.0,572.0"/>
<path d="M383.0,412.0 C389.2,412.5 408.8,414.3 420.0,415.0 C431.2,415.7 440.0,416.2 450.0,416.0 C460.0,415.8 470.5,415.0 480.0,414.0 C489.5,413.0 502.5,410.7 507.0,410.0" style="fill:none;stroke:#151515;stroke-width:5.40;opacity:0.30;stroke-linecap:round;stroke-linejoin:round"/>
<path class="k" d="M383.0,412.0 C389.2,412.5 408.8,414.3 420.0,415.0 C431.2,415.7 440.0,416.2 450.0,416.0 C460.0,415.8 470.5,415.0 480.0,414.0 C489.5,413.0 502.5,410.7 507.0,410.0"/>
<path d="M433,413 L449,479 L462,413 Z" fill="#141414" stroke="#141414" stroke-width="1.5" stroke-linejoin="round"/>
<path d="M440.5,417 L449,451 L456,417 Z" fill="#fff"/>
<path d="M393.0,505.0 C397.5,503.2 411.0,496.5 420.0,494.0 C429.0,491.5 437.3,490.5 447.0,490.0 C456.7,489.5 468.7,489.5 478.0,491.0 C487.3,492.5 498.8,497.7 503.0,499.0" style="fill:none;stroke:#151515;stroke-width:7.60;opacity:0.30;stroke-linecap:round;stroke-linejoin:round"/>
<path class="kT" d="M393.0,505.0 C397.5,503.2 411.0,496.5 420.0,494.0 C429.0,491.5 437.3,490.5 447.0,490.0 C456.7,489.5 468.7,489.5 478.0,491.0 C487.3,492.5 498.8,497.7 503.0,499.0" style="stroke-width:6"/>
<path d="M393.0,520.0 C393.7,525.0 395.0,543.3 397.0,550.0 C399.0,556.7 401.5,557.5 405.0,560.0 C408.5,562.5 415.8,564.2 418.0,565.0" style="fill:none;stroke:#151515;stroke-width:5.40;opacity:0.30;stroke-linecap:round;stroke-linejoin:round"/>
<path class="k" d="M393.0,520.0 C393.7,525.0 395.0,543.3 397.0,550.0 C399.0,556.7 401.5,557.5 405.0,560.0 C408.5,562.5 415.8,564.2 418.0,565.0"/>
<ellipse cx="449.6" cy="575" rx="32" ry="43" class="kw"/>
<path d="M367.0,617.0 C367.0,623.3 364.3,646.0 367.0,655.0 C369.7,664.0 369.2,668.2 383.0,671.0 C396.8,673.8 428.0,672.2 450.0,672.0 C472.0,671.8 502.5,672.8 515.0,670.0 C527.5,667.2 523.3,666.2 525.0,655.0 C526.7,643.8 525.0,611.7 525.0,603.0" style="fill:none;stroke:#151515;stroke-width:5.40;opacity:0.30;stroke-linecap:round;stroke-linejoin:round"/>
<path class="k" d="M367.0,617.0 C367.0,623.3 364.3,646.0 367.0,655.0 C369.7,664.0 369.2,668.2 383.0,671.0 C396.8,673.8 428.0,672.2 450.0,672.0 C472.0,671.8 502.5,672.8 515.0,670.0 C527.5,667.2 523.3,666.2 525.0,655.0 C526.7,643.8 525.0,611.7 525.0,603.0"/>
<path d="M395.0,540.0 C395.8,543.3 397.5,554.2 400.0,560.0 C402.5,565.8 407.0,570.0 410.0,575.0 C413.0,580.0 416.7,587.5 418.0,590.0" style="fill:none;stroke:#151515;stroke-width:4.40;opacity:0.30;stroke-linecap:round;stroke-linejoin:round"/>
<path class="kt" d="M395.0,540.0 C395.8,543.3 397.5,554.2 400.0,560.0 C402.5,565.8 407.0,570.0 410.0,575.0 C413.0,580.0 416.7,587.5 418.0,590.0"/>
<path d="M409.0,670.0 C409.0,662.5 407.2,633.8 409.0,625.0 C410.8,616.2 409.0,618.3 420.0,617.0 C431.0,615.7 463.8,615.3 475.0,617.0 C486.2,618.7 485.0,618.2 487.0,627.0 C489.0,635.8 487.0,662.8 487.0,670.0" style="fill:none;stroke:#151515;stroke-width:5.40;opacity:0.30;stroke-linecap:round;stroke-linejoin:round"/>
<path class="k" d="M409.0,670.0 C409.0,662.5 407.2,633.8 409.0,625.0 C410.8,616.2 409.0,618.3 420.0,617.0 C431.0,615.7 463.8,615.3 475.0,617.0 C486.2,618.7 485.0,618.2 487.0,627.0 C489.0,635.8 487.0,662.8 487.0,670.0"/>
<path d="M375.0,615.0 C375.5,617.5 375.2,626.3 378.0,630.0 C380.8,633.7 386.8,635.7 392.0,637.0 C397.2,638.3 406.2,637.8 409.0,638.0" style="fill:none;stroke:#151515;stroke-width:5.40;opacity:0.30;stroke-linecap:round;stroke-linejoin:round"/>
<path class="k" d="M375.0,615.0 C375.5,617.5 375.2,626.3 378.0,630.0 C380.8,633.7 386.8,635.7 392.0,637.0 C397.2,638.3 406.2,637.8 409.0,638.0"/>
<path d="M488.0,634.0 C491.7,633.0 505.0,632.8 510.0,628.0 C515.0,623.2 516.7,608.8 518.0,605.0" style="fill:none;stroke:#151515;stroke-width:5.40;opacity:0.30;stroke-linecap:round;stroke-linejoin:round"/>
<path class="k" d="M488.0,634.0 C491.7,633.0 505.0,632.8 510.0,628.0 C515.0,623.2 516.7,608.8 518.0,605.0"/>
<path d="M332,645 L413,563" stroke="#111" stroke-width="6" stroke-linecap="round" fill="none"/>
<path d="M332,645 L413,563" stroke="#bbb" stroke-width="2.5" stroke-linecap="round" fill="none"/>
<path d="M686.0,557.0 C684.2,554.9 670.4,541.7 668.0,536.0 C665.6,530.3 663.2,507.6 662.0,500.0 C660.8,492.4 656.7,466.2 656.0,460.0 C655.3,453.8 654.5,442.6 655.0,438.0 C655.5,433.4 658.9,418.0 661.0,414.0 C663.1,410.0 672.4,400.4 676.0,398.0 C679.6,395.6 689.6,390.9 697.0,390.0 C704.4,389.1 739.2,389.1 750.0,389.0 C760.8,388.9 797.2,387.6 805.0,389.0 C812.8,390.4 824.6,398.5 828.0,403.0 C831.4,407.5 837.9,424.3 839.0,434.0 C840.1,443.7 839.1,490.4 839.0,500.0 C838.9,509.6 839.1,524.7 838.0,530.0 C836.9,535.3 830.8,549.9 828.0,553.0 C825.2,556.1 817.8,560.2 810.0,561.0 C802.2,561.8 762.0,561.0 750.0,561.0 C738.0,561.0 696.0,561.0 690.0,561.0" style="fill:none;stroke:#151515;stroke-width:5.40;opacity:0.30;stroke-linecap:round;stroke-linejoin:round"/>
<path class="k" d="M686.0,557.0 C684.2,554.9 670.4,541.7 668.0,536.0 C665.6,530.3 663.2,507.6 662.0,500.0 C660.8,492.4 656.7,466.2 656.0,460.0 C655.3,453.8 654.5,442.6 655.0,438.0 C655.5,433.4 658.9,418.0 661.0,414.0 C663.1,410.0 672.4,400.4 676.0,398.0 C679.6,395.6 689.6,390.9 697.0,390.0 C704.4,389.1 739.2,389.1 750.0,389.0 C760.8,388.9 797.2,387.6 805.0,389.0 C812.8,390.4 824.6,398.5 828.0,403.0 C831.4,407.5 837.9,424.3 839.0,434.0 C840.1,443.7 839.1,490.4 839.0,500.0 C838.9,509.6 839.1,524.7 838.0,530.0 C836.9,535.3 830.8,549.9 828.0,553.0 C825.2,556.1 817.8,560.2 810.0,561.0 C802.2,561.8 762.0,561.0 750.0,561.0 C738.0,561.0 696.0,561.0 690.0,561.0"/>
<path d="M667.0,553.0 C667.0,557.7 667.0,590.6 667.0,600.0 C667.0,609.4 666.0,640.5 667.0,647.0 C668.0,653.5 673.7,663.1 677.0,665.0 C680.3,666.9 691.7,665.9 700.0,666.0 C708.3,666.1 748.5,666.0 760.0,666.0 C771.5,666.0 807.9,667.6 815.0,666.0 C822.1,664.4 829.4,656.6 831.0,650.0 C832.6,643.4 831.0,609.4 831.0,600.0 C831.0,590.6 831.0,560.4 831.0,556.0" style="fill:none;stroke:#151515;stroke-width:5.40;opacity:0.30;stroke-linecap:round;stroke-linejoin:round"/>
<path class="k" d="M667.0,553.0 C667.0,557.7 667.0,590.6 667.0,600.0 C667.0,609.4 666.0,640.5 667.0,647.0 C668.0,653.5 673.7,663.1 677.0,665.0 C680.3,666.9 691.7,665.9 700.0,666.0 C708.3,666.1 748.5,666.0 760.0,666.0 C771.5,666.0 807.9,667.6 815.0,666.0 C822.1,664.4 829.4,656.6 831.0,650.0 C832.6,643.4 831.0,609.4 831.0,600.0 C831.0,590.6 831.0,560.4 831.0,556.0"/>
<path d="M671.0,600.0 C673.2,604.2 677.7,619.5 684.0,625.0 C690.3,630.5 704.8,631.7 709.0,633.0" style="fill:none;stroke:#151515;stroke-width:5.40;opacity:0.30;stroke-linecap:round;stroke-linejoin:round"/>
<path class="k" d="M671.0,600.0 C673.2,604.2 677.7,619.5 684.0,625.0 C690.3,630.5 704.8,631.7 709.0,633.0"/>
<path d="M787.0,631.0 C791.7,630.2 808.3,632.0 815.0,626.0 C821.7,620.0 825.0,600.2 827.0,595.0" style="fill:none;stroke:#151515;stroke-width:5.40;opacity:0.30;stroke-linecap:round;stroke-linejoin:round"/>
<path class="k" d="M787.0,631.0 C791.7,630.2 808.3,632.0 815.0,626.0 C821.7,620.0 825.0,600.2 827.0,595.0"/>
<rect x="710" y="610" width="77" height="56" rx="11" class="kw"/>
<path d="M356.0,860.0 C356.1,851.7 356.5,772.2 357.0,760.0 C357.5,747.8 359.6,718.2 362.0,713.0 C364.4,707.8 382.0,699.4 386.0,698.0 C390.0,696.6 397.4,696.3 410.0,696.0 C422.6,695.7 512.8,694.2 537.0,694.0 C561.2,693.8 677.6,693.1 700.0,693.0 C722.4,692.9 795.2,692.2 806.0,693.0 C816.8,693.8 827.2,700.2 830.0,703.0 C832.8,705.8 839.2,718.9 840.0,727.0 C840.8,735.1 840.0,789.8 840.0,800.0 C840.0,810.2 840.8,843.8 840.0,850.0 C839.2,856.2 832.6,872.4 830.0,875.0 C827.4,877.6 824.0,880.5 809.0,881.0 C794.0,881.5 673.9,881.0 650.0,881.0 C626.1,881.0 532.7,881.0 522.0,881.0" style="fill:none;stroke:#151515;stroke-width:5.40;opacity:0.30;stroke-linecap:round;stroke-linejoin:round"/>
<path class="k" d="M356.0,860.0 C356.1,851.7 356.5,772.2 357.0,760.0 C357.5,747.8 359.6,718.2 362.0,713.0 C364.4,707.8 382.0,699.4 386.0,698.0 C390.0,696.6 397.4,696.3 410.0,696.0 C422.6,695.7 512.8,694.2 537.0,694.0 C561.2,693.8 677.6,693.1 700.0,693.0 C722.4,692.9 795.2,692.2 806.0,693.0 C816.8,693.8 827.2,700.2 830.0,703.0 C832.8,705.8 839.2,718.9 840.0,727.0 C840.8,735.1 840.0,789.8 840.0,800.0 C840.0,810.2 840.8,843.8 840.0,850.0 C839.2,856.2 832.6,872.4 830.0,875.0 C827.4,877.6 824.0,880.5 809.0,881.0 C794.0,881.5 673.9,881.0 650.0,881.0 C626.1,881.0 532.7,881.0 522.0,881.0"/>
<path d="M659,697 L659,874" style="fill:none;stroke:#151515;stroke-width:3.80;opacity:0.30;stroke-linecap:round;stroke-linejoin:round;stroke-dasharray:16 4"/>
<path class="kt" d="M659,697 L659,874" style="stroke-dasharray:16 4;stroke-width:2.2"/>
<path d="M537,697 L537,880" style="fill:none;stroke:#1e3a48;stroke-width:3.80;opacity:0.30;stroke-linecap:round;stroke-linejoin:round;stroke-dasharray:22 3"/>
<path class="kt" d="M537,697 L537,880" style="stroke-dasharray:22 3;stroke-width:2.2;stroke:#1e3a48"/>
<path d="M364.0,868.0 C364.1,873.2 364.8,921.5 365.0,930.0 C365.2,938.5 365.1,965.4 366.0,970.0 C366.9,974.6 373.6,983.7 376.0,985.0 C378.4,986.3 376.3,986.1 395.0,986.0 C413.7,985.9 564.6,984.3 600.0,984.0 C635.4,983.7 800.5,983.3 820.0,982.0 C839.5,980.7 832.8,973.2 834.0,968.0 C835.2,962.8 834.9,928.2 835.0,920.0 C835.1,911.8 835.0,874.2 835.0,870.0" style="fill:none;stroke:#151515;stroke-width:5.40;opacity:0.30;stroke-linecap:round;stroke-linejoin:round"/>
<path class="k" d="M364.0,868.0 C364.1,873.2 364.8,921.5 365.0,930.0 C365.2,938.5 365.1,965.4 366.0,970.0 C366.9,974.6 373.6,983.7 376.0,985.0 C378.4,986.3 376.3,986.1 395.0,986.0 C413.7,985.9 564.6,984.3 600.0,984.0 C635.4,983.7 800.5,983.3 820.0,982.0 C839.5,980.7 832.8,973.2 834.0,968.0 C835.2,962.8 834.9,928.2 835.0,920.0 C835.1,911.8 835.0,874.2 835.0,870.0"/>
<path d="M368.0,922.0 C369.0,925.0 370.0,935.0 374.0,940.0 C378.0,945.0 386.0,949.7 392.0,952.0 C398.0,954.3 407.0,953.7 410.0,954.0" style="fill:none;stroke:#151515;stroke-width:5.40;opacity:0.30;stroke-linecap:round;stroke-linejoin:round"/>
<path class="k" d="M368.0,922.0 C369.0,925.0 370.0,935.0 374.0,940.0 C378.0,945.0 386.0,949.7 392.0,952.0 C398.0,954.3 407.0,953.7 410.0,954.0"/>
<rect x="412" y="930" width="80" height="55" rx="10" class="kw"/>
<rect x="563" y="942" width="75" height="43" rx="10" class="kw"/>
<rect x="713" y="925" width="78" height="57" rx="10" class="kw"/>
<path d="M492,951 L563,951 M638,951 L713,951" style="fill:none;stroke:#151515;stroke-width:5.40;opacity:0.30;stroke-linecap:round;stroke-linejoin:round"/>
<path class="k" d="M492,951 L563,951 M638,951 L713,951"/>
<path d="M791.0,950.0 C794.5,949.3 805.8,949.3 812.0,946.0 C818.2,942.7 824.5,941.0 828.0,930.0 C831.5,919.0 832.2,888.3 833.0,880.0" style="fill:none;stroke:#151515;stroke-width:5.40;opacity:0.30;stroke-linecap:round;stroke-linejoin:round"/>
<path class="k" d="M791.0,950.0 C794.5,949.3 805.8,949.3 812.0,946.0 C818.2,942.7 824.5,941.0 828.0,930.0 C831.5,919.0 832.2,888.3 833.0,880.0"/>
<path d="M662,894 L673,982" style="fill:none;stroke:#151515;stroke-width:3.60;opacity:0.30;stroke-linecap:round;stroke-linejoin:round;stroke-dasharray:12 4"/>
<path class="kt" d="M662,894 L673,982" style="stroke-dasharray:12 4;stroke-width:2"/>
<path d="M588,898 L803,898 M588,909 L803,909" style="fill:none;stroke:#8a8a8a;stroke-width:3.20;opacity:0.30;stroke-linecap:round;stroke-linejoin:round;stroke-dasharray:12 4"/>
<path class="kt" d="M588,898 L803,898 M588,909 L803,909" style="stroke:#8a8a8a;stroke-width:1.6;stroke-dasharray:12 4"/>
<path d="M700,897 L795,897 M700,908 L795,908" style="fill:none;stroke:#555;stroke-width:3.00;opacity:0.30;stroke-linecap:round;stroke-linejoin:round;stroke-dasharray:20 3"/>
<path class="kt" d="M700,897 L795,897 M700,908 L795,908" style="stroke:#555;stroke-width:1.4;stroke-dasharray:20 3"/>
<path d="M392.0,785.0 C392.4,780.6 393.6,753.9 395.0,747.0 C396.4,740.1 401.2,729.0 404.0,726.0 C406.8,723.0 417.2,721.6 419.0,721.0" style="fill:none;stroke:#151515;stroke-width:5.40;opacity:0.30;stroke-linecap:round;stroke-linejoin:round"/>
<path class="k" d="M392.0,785.0 C392.4,780.6 393.6,753.9 395.0,747.0 C396.4,740.1 401.2,729.0 404.0,726.0 C406.8,723.0 417.2,721.6 419.0,721.0"/>
<path d="M502.0,721.0 C503.8,721.6 514.3,723.7 517.0,726.0 C519.7,728.3 524.0,734.1 525.0,741.0 C526.0,747.9 525.9,779.9 526.0,785.0" style="fill:none;stroke:#151515;stroke-width:5.40;opacity:0.30;stroke-linecap:round;stroke-linejoin:round"/>
<path class="k" d="M502.0,721.0 C503.8,721.6 514.3,723.7 517.0,726.0 C519.7,728.3 524.0,734.1 525.0,741.0 C526.0,747.9 525.9,779.9 526.0,785.0"/>
<path d="M390.0,800.0 C390.0,808.0 389.9,870.0 390.0,880.0 C390.1,890.0 390.0,896.3 391.0,900.0 C392.0,903.7 397.1,914.9 400.0,917.0 C402.9,919.1 410.0,920.6 420.0,921.0 C430.0,921.4 490.7,921.5 500.0,921.0 C509.3,920.5 511.1,917.6 513.0,916.0 C514.9,914.4 518.4,910.6 519.0,905.0 C519.6,899.4 519.0,870.5 519.0,860.0 C519.0,849.5 519.0,806.0 519.0,800.0" style="fill:none;stroke:#151515;stroke-width:5.40;opacity:0.30;stroke-linecap:round;stroke-linejoin:round"/>
<path class="k" d="M390.0,800.0 C390.0,808.0 389.9,870.0 390.0,880.0 C390.1,890.0 390.0,896.3 391.0,900.0 C392.0,903.7 397.1,914.9 400.0,917.0 C402.9,919.1 410.0,920.6 420.0,921.0 C430.0,921.4 490.7,921.5 500.0,921.0 C509.3,920.5 511.1,917.6 513.0,916.0 C514.9,914.4 518.4,910.6 519.0,905.0 C519.6,899.4 519.0,870.5 519.0,860.0 C519.0,849.5 519.0,806.0 519.0,800.0"/>
<path d="M392.5,822.0 C392.7,817.7 392.5,795.2 394.0,790.0 C395.5,784.8 401.6,783.5 404.0,783.0 C406.4,782.5 410.4,783.7 412.0,786.0 C413.6,788.3 415.5,798.1 416.0,800.0" style="fill:none;stroke:#151515;stroke-width:5.40;opacity:0.30;stroke-linecap:round;stroke-linejoin:round"/>
<path class="k" d="M392.5,822.0 C392.7,817.7 392.5,795.2 394.0,790.0 C395.5,784.8 401.6,783.5 404.0,783.0 C406.4,782.5 410.4,783.7 412.0,786.0 C413.6,788.3 415.5,798.1 416.0,800.0"/>
<path d="M500.0,800.0 C500.7,798.1 503.1,788.3 505.0,786.0 C506.9,783.7 512.0,782.5 514.0,783.0 C516.0,783.5 518.8,784.8 520.0,790.0 C521.2,795.2 522.6,817.7 523.0,822.0" style="fill:none;stroke:#151515;stroke-width:5.40;opacity:0.30;stroke-linecap:round;stroke-linejoin:round"/>
<path class="k" d="M500.0,800.0 C500.7,798.1 503.1,788.3 505.0,786.0 C506.9,783.7 512.0,782.5 514.0,783.0 C516.0,783.5 518.8,784.8 520.0,790.0 C521.2,795.2 522.6,817.7 523.0,822.0"/>
<path d="M445.0,760.0 C443.7,759.7 440.2,757.0 437.0,758.0 C433.8,759.0 428.7,761.5 426.0,766.0 C423.3,770.5 421.7,775.7 421.0,785.0 C420.3,794.3 421.8,815.8 422.0,822.0" style="fill:none;stroke:#151515;stroke-width:5.40;opacity:0.30;stroke-linecap:round;stroke-linejoin:round"/>
<path class="k" d="M445.0,760.0 C443.7,759.7 440.2,757.0 437.0,758.0 C433.8,759.0 428.7,761.5 426.0,766.0 C423.3,770.5 421.7,775.7 421.0,785.0 C420.3,794.3 421.8,815.8 422.0,822.0"/>
<path d="M466.0,760.0 C467.3,759.7 470.8,757.0 474.0,758.0 C477.2,759.0 481.5,761.5 485.0,766.0 C488.5,770.5 493.0,775.7 495.0,785.0 C497.0,794.3 496.7,815.8 497.0,822.0" style="fill:none;stroke:#151515;stroke-width:5.40;opacity:0.30;stroke-linecap:round;stroke-linejoin:round"/>
<path class="k" d="M466.0,760.0 C467.3,759.7 470.8,757.0 474.0,758.0 C477.2,759.0 481.5,761.5 485.0,766.0 C488.5,770.5 493.0,775.7 495.0,785.0 C497.0,794.3 496.7,815.8 497.0,822.0"/>
<path d="M401.0,800.0 C401.5,806.3 403.0,826.5 404.0,838.0 C405.0,849.5 404.8,861.7 407.0,869.0 C409.2,876.3 412.7,878.8 417.0,882.0 C421.3,885.2 430.3,887.0 433.0,888.0" style="fill:none;stroke:#151515;stroke-width:5.40;opacity:0.30;stroke-linecap:round;stroke-linejoin:round"/>
<path class="k" d="M401.0,800.0 C401.5,806.3 403.0,826.5 404.0,838.0 C405.0,849.5 404.8,861.7 407.0,869.0 C409.2,876.3 412.7,878.8 417.0,882.0 C421.3,885.2 430.3,887.0 433.0,888.0"/>
<path d="M510.0,831.0 C508.8,836.2 505.7,854.0 503.0,862.0 C500.3,870.0 497.5,875.3 494.0,879.0 C490.5,882.7 484.0,883.2 482.0,884.0" style="fill:none;stroke:#151515;stroke-width:5.40;opacity:0.30;stroke-linecap:round;stroke-linejoin:round"/>
<path class="k" d="M510.0,831.0 C508.8,836.2 505.7,854.0 503.0,862.0 C500.3,870.0 497.5,875.3 494.0,879.0 C490.5,882.7 484.0,883.2 482.0,884.0"/>
<path d="M410,878 L500,878 C506,880 507,896 500,900 L412,900 C404,897 404,881 410,878 Z" fill="#4f8aa5" opacity="0.55"/>
<path d="M444.0,777.0 C448.2,776.0 463.8,776.0 468.0,777.0 C472.2,778.0 477.7,783.3 480.0,786.0 C482.3,788.7 486.7,796.0 488.0,800.0 C489.3,804.0 490.6,814.8 491.0,820.0 C491.4,825.2 491.5,838.2 491.0,845.0 C490.5,851.8 488.4,873.2 487.0,878.0 C485.6,882.8 480.1,889.0 479.0,886.0 C477.9,883.0 479.1,857.6 478.0,852.0 C476.9,846.4 472.7,840.1 470.0,838.0 C467.3,835.9 458.5,834.0 455.0,834.0 C451.5,834.0 442.7,835.9 440.0,838.0 C437.3,840.1 433.1,846.4 432.0,852.0 C430.9,857.6 432.1,883.0 431.0,886.0 C429.9,889.0 424.6,882.8 423.0,878.0 C421.4,873.2 417.7,851.8 417.0,845.0 C416.3,838.2 416.2,825.2 417.0,820.0 C417.8,814.8 422.2,804.0 424.0,800.0 C425.8,796.0 429.7,788.7 432.0,786.0 C434.3,783.3 439.8,778.0 444.0,777.0Z" fill="#3a6273" opacity="0.82"/>
<path d="M445,836 L455,795 L465,836 Z" fill="#74b8d6"/>
<path d="M449,812 L461,812" style="fill:none;stroke:#151515;stroke-width:4.40;opacity:0.30;stroke-linecap:round;stroke-linejoin:round"/>
<path class="kt" d="M449,812 L461,812"/>
<path d="M426.0,800.0 C425.7,803.3 423.3,813.3 424.0,820.0 C424.7,826.7 429.0,836.7 430.0,840.0" style="fill:none;stroke:#1d3540;stroke-width:4.40;opacity:0.30;stroke-linecap:round;stroke-linejoin:round"/>
<path class="kt" d="M426.0,800.0 C425.7,803.3 423.3,813.3 424.0,820.0 C424.7,826.7 429.0,836.7 430.0,840.0" style="stroke:#1d3540"/>
<path d="M486.0,800.0 C486.3,803.3 488.7,813.3 488.0,820.0 C487.3,826.7 483.0,836.7 482.0,840.0" style="fill:none;stroke:#1d3540;stroke-width:4.40;opacity:0.30;stroke-linecap:round;stroke-linejoin:round"/>
<path class="kt" d="M486.0,800.0 C486.3,803.3 488.7,813.3 488.0,820.0 C487.3,826.7 483.0,836.7 482.0,840.0" style="stroke:#1d3540"/>
<ellipse cx="454.5" cy="867" rx="23.5" ry="33" fill="#84cff0" class="k" style="fill:#84cff0"/>
<path d="M418.0,760.0 C418.0,757.1 417.9,741.4 418.0,735.0 C418.1,728.6 418.1,709.9 419.0,705.0 C419.9,700.1 424.1,694.5 426.0,693.0 C427.9,691.5 433.0,691.5 435.0,692.0 C437.0,692.5 441.9,694.9 443.0,697.0 C444.1,699.1 444.2,707.1 444.0,710.0 C443.8,712.9 441.4,720.6 441.0,722.0" style="fill:none;stroke:#151515;stroke-width:5.40;opacity:0.30;stroke-linecap:round;stroke-linejoin:round"/>
<path class="k" d="M418.0,760.0 C418.0,757.1 417.9,741.4 418.0,735.0 C418.1,728.6 418.1,709.9 419.0,705.0 C419.9,700.1 424.1,694.5 426.0,693.0 C427.9,691.5 433.0,691.5 435.0,692.0 C437.0,692.5 441.9,694.9 443.0,697.0 C444.1,699.1 444.2,707.1 444.0,710.0 C443.8,712.9 441.4,720.6 441.0,722.0"/>
<path d="M479.0,722.0 C479.2,720.0 479.9,707.9 481.0,705.0 C482.1,702.1 486.2,698.0 488.0,697.0 C489.8,696.0 494.1,695.5 496.0,696.0 C497.9,696.5 502.9,698.8 504.0,701.0 C505.1,703.2 505.4,710.5 505.0,715.0 C504.6,719.5 501.7,734.2 501.0,740.0 C500.3,745.8 499.2,762.1 499.0,765.0" style="fill:none;stroke:#151515;stroke-width:5.40;opacity:0.30;stroke-linecap:round;stroke-linejoin:round"/>
<path class="k" d="M479.0,722.0 C479.2,720.0 479.9,707.9 481.0,705.0 C482.1,702.1 486.2,698.0 488.0,697.0 C489.8,696.0 494.1,695.5 496.0,696.0 C497.9,696.5 502.9,698.8 504.0,701.0 C505.1,703.2 505.4,710.5 505.0,715.0 C504.6,719.5 501.7,734.2 501.0,740.0 C500.3,745.8 499.2,762.1 499.0,765.0"/>
<path d="M441,722.5 L479,722.5" style="fill:none;stroke:#151515;stroke-width:5.40;opacity:0.30;stroke-linecap:round;stroke-linejoin:round"/>
<path class="k" d="M441,722.5 L479,722.5"/>
<path d="M441.0,722.5 C440.9,725.8 439.5,741.3 440.0,747.0 C440.5,752.7 442.5,761.6 445.0,765.0 C447.5,768.4 455.3,772.5 459.0,772.5 C462.7,772.5 469.7,768.4 472.5,765.0 C475.3,761.6 479.1,752.7 480.0,747.0 C480.9,741.3 479.1,725.8 479.0,722.5" style="fill:none;stroke:#151515;stroke-width:5.40;opacity:0.30;stroke-linecap:round;stroke-linejoin:round"/>
<path class="k" d="M441.0,722.5 C440.9,725.8 439.5,741.3 440.0,747.0 C440.5,752.7 442.5,761.6 445.0,765.0 C447.5,768.4 455.3,772.5 459.0,772.5 C462.7,772.5 469.7,768.4 472.5,765.0 C475.3,761.6 479.1,752.7 480.0,747.0 C480.9,741.3 479.1,725.8 479.0,722.5"/>
<path d="M446,745 L474,745" style="fill:none;stroke:#5a8ea5;stroke-width:3.10;opacity:0.30;stroke-linecap:round;stroke-linejoin:round"/>
<path class="kt" d="M446,745 L474,745" style="stroke:#5a8ea5;stroke-width:1.5"/>
<path d="M440.0,768.0 C438.8,769.3 435.3,772.3 433.0,776.0 C430.7,779.7 427.2,787.7 426.0,790.0" style="fill:none;stroke:#151515;stroke-width:4.40;opacity:0.30;stroke-linecap:round;stroke-linejoin:round"/>
<path class="kt" d="M440.0,768.0 C438.8,769.3 435.3,772.3 433.0,776.0 C430.7,779.7 427.2,787.7 426.0,790.0"/>
<path d="M478.0,768.0 C479.2,769.3 482.7,772.3 485.0,776.0 C487.3,779.7 490.8,787.7 492.0,790.0" style="fill:none;stroke:#151515;stroke-width:4.40;opacity:0.30;stroke-linecap:round;stroke-linejoin:round"/>
<path class="kt" d="M478.0,768.0 C479.2,769.3 482.7,772.3 485.0,776.0 C487.3,779.7 490.8,787.7 492.0,790.0"/>
<path d="M272.7,477.0 C271.1,480.0 265.5,488.2 263.0,495.0 C260.5,501.8 258.8,508.3 257.5,518.0 C256.2,527.7 254.4,545.5 255.0,553.0 C255.6,560.5 258.2,561.0 261.0,563.0 C263.8,565.0 269.8,564.7 271.5,565.0" style="fill:none;stroke:#151515;stroke-width:5.40;opacity:0.30;stroke-linecap:round;stroke-linejoin:round"/>
<path class="k" d="M272.7,477.0 C271.1,480.0 265.5,488.2 263.0,495.0 C260.5,501.8 258.8,508.3 257.5,518.0 C256.2,527.7 254.4,545.5 255.0,553.0 C255.6,560.5 258.2,561.0 261.0,563.0 C263.8,565.0 269.8,564.7 271.5,565.0"/>
<path d="M269.0,490.0 C268.5,493.3 266.6,503.3 266.0,510.0 C265.4,516.7 265.8,522.8 265.7,530.0 C265.6,537.2 265.7,549.2 265.7,553.0" style="fill:none;stroke:#151515;stroke-width:4.40;opacity:0.30;stroke-linecap:round;stroke-linejoin:round"/>
<path class="kt" d="M269.0,490.0 C268.5,493.3 266.6,503.3 266.0,510.0 C265.4,516.7 265.8,522.8 265.7,530.0 C265.6,537.2 265.7,549.2 265.7,553.0"/>
<path d="M260,563 L260,579" style="fill:none;stroke:#151515;stroke-width:5.40;opacity:0.30;stroke-linecap:round;stroke-linejoin:round"/>
<path class="k" d="M260,563 L260,579"/>
<path d="M267.0,855.0 C265.5,858.7 260.1,868.3 258.0,877.0 C255.9,885.7 254.8,897.0 254.5,907.0 C254.2,917.0 254.2,929.5 256.0,937.0 C257.8,944.5 263.5,949.5 265.0,952.0" style="fill:none;stroke:#151515;stroke-width:5.40;opacity:0.30;stroke-linecap:round;stroke-linejoin:round"/>
<path class="k" d="M267.0,855.0 C265.5,858.7 260.1,868.3 258.0,877.0 C255.9,885.7 254.8,897.0 254.5,907.0 C254.2,917.0 254.2,929.5 256.0,937.0 C257.8,944.5 263.5,949.5 265.0,952.0"/>
<path d="M263.0,870.0 C262.3,874.2 259.7,885.8 259.0,895.0 C258.3,904.2 259.0,920.0 259.0,925.0" style="fill:none;stroke:#151515;stroke-width:4.40;opacity:0.30;stroke-linecap:round;stroke-linejoin:round"/>
<path class="kt" d="M263.0,870.0 C262.3,874.2 259.7,885.8 259.0,895.0 C258.3,904.2 259.0,920.0 259.0,925.0"/>
<path d="M927.0,464.0 C928.3,465.5 933.0,467.0 935.0,473.0 C937.0,479.0 938.3,490.5 939.0,500.0 C939.7,509.5 940.5,524.5 939.0,530.0 C937.5,535.5 931.5,532.5 930.0,533.0" style="fill:none;stroke:#151515;stroke-width:5.40;opacity:0.30;stroke-linecap:round;stroke-linejoin:round"/>
<path class="k" d="M927.0,464.0 C928.3,465.5 933.0,467.0 935.0,473.0 C937.0,479.0 938.3,490.5 939.0,500.0 C939.7,509.5 940.5,524.5 939.0,530.0 C937.5,535.5 931.5,532.5 930.0,533.0"/>
<path d="M929.0,535.0 C930.0,535.8 934.0,537.2 935.0,540.0 C936.0,542.8 936.2,549.2 935.0,552.0 C933.8,554.8 929.2,556.2 928.0,557.0" style="fill:none;stroke:#151515;stroke-width:5.40;opacity:0.30;stroke-linecap:round;stroke-linejoin:round"/>
<path class="k" d="M929.0,535.0 C930.0,535.8 934.0,537.2 935.0,540.0 C936.0,542.8 936.2,549.2 935.0,552.0 C933.8,554.8 929.2,556.2 928.0,557.0"/>
<path d="M931.0,850.0 C932.5,851.7 937.8,854.2 940.0,860.0 C942.2,865.8 943.3,875.8 944.0,885.0 C944.7,894.2 945.7,909.2 944.0,915.0 C942.3,920.8 935.7,919.2 934.0,920.0" style="fill:none;stroke:#151515;stroke-width:5.40;opacity:0.30;stroke-linecap:round;stroke-linejoin:round"/>
<path class="k" d="M931.0,850.0 C932.5,851.7 937.8,854.2 940.0,860.0 C942.2,865.8 943.3,875.8 944.0,885.0 C944.7,894.2 945.7,909.2 944.0,915.0 C942.3,920.8 935.7,919.2 934.0,920.0"/>
<path d="M933.0,922.0 C934.0,923.0 938.0,925.0 939.0,928.0 C940.0,931.0 940.2,937.0 939.0,940.0 C937.8,943.0 933.2,945.0 932.0,946.0" style="fill:none;stroke:#151515;stroke-width:5.40;opacity:0.30;stroke-linecap:round;stroke-linejoin:round"/>
<path class="k" d="M933.0,922.0 C934.0,923.0 938.0,925.0 939.0,928.0 C940.0,931.0 940.2,937.0 939.0,940.0 C937.8,943.0 933.2,945.0 932.0,946.0"/>
<path d="M272,600 L293,604" style="fill:none;stroke:#151515;stroke-width:5.40;opacity:0.30;stroke-linecap:round;stroke-linejoin:round"/>
<path class="k" d="M272,600 L293,604"/>
<path d="M293,575 L329,605 M293,614 L332,632 M293,641 L329,657" style="fill:none;stroke:#151515;stroke-width:5.40;opacity:0.30;stroke-linecap:round;stroke-linejoin:round"/>
<path class="k" d="M293,575 L329,605 M293,614 L332,632 M293,641 L329,657"/>
<path d="M869,594 L904,563 M868,624 L925,588 M869,648 L905,633" style="fill:none;stroke:#151515;stroke-width:5.40;opacity:0.30;stroke-linecap:round;stroke-linejoin:round"/>
<path class="k" d="M869,594 L904,563 M868,624 L925,588 M869,648 L905,633"/>
<path d="M871,855 L907,824 M871,869 L907,840 M871,897 L910,906" style="fill:none;stroke:#151515;stroke-width:5.40;opacity:0.30;stroke-linecap:round;stroke-linejoin:round"/>
<path class="k" d="M871,855 L907,824 M871,869 L907,840 M871,897 L910,906"/>
<path d="M291.0,828.0 C293.3,830.0 300.5,836.0 305.0,840.0 C309.5,844.0 314.5,849.0 318.0,852.0 C321.5,855.0 324.7,857.0 326.0,858.0" style="fill:none;stroke:#151515;stroke-width:5.40;opacity:0.30;stroke-linecap:round;stroke-linejoin:round"/>
<path class="k" d="M291.0,828.0 C293.3,830.0 300.5,836.0 305.0,840.0 C309.5,844.0 314.5,849.0 318.0,852.0 C321.5,855.0 324.7,857.0 326.0,858.0"/>
<path d="M291.0,843.0 C293.3,845.0 300.0,850.7 305.0,855.0 C310.0,859.3 318.3,866.7 321.0,869.0" style="fill:none;stroke:#151515;stroke-width:5.40;opacity:0.30;stroke-linecap:round;stroke-linejoin:round"/>
<path class="k" d="M291.0,843.0 C293.3,845.0 300.0,850.7 305.0,855.0 C310.0,859.3 318.3,866.7 321.0,869.0"/>
<path d="M291,911 L305,907 L325,905" style="fill:none;stroke:#151515;stroke-width:5.40;opacity:0.30;stroke-linecap:round;stroke-linejoin:round"/>
<path class="k" d="M291,911 L305,907 L325,905"/>
<path d="M269.0,982.0 C274.2,979.7 291.5,973.0 300.0,968.0 C308.5,963.0 313.8,957.7 320.0,952.0 C326.2,946.3 334.2,937.0 337.0,934.0" style="fill:none;stroke:#151515;stroke-width:5.40;opacity:0.30;stroke-linecap:round;stroke-linejoin:round"/>
<path class="k" d="M269.0,982.0 C274.2,979.7 291.5,973.0 300.0,968.0 C308.5,963.0 313.8,957.7 320.0,952.0 C326.2,946.3 334.2,937.0 337.0,934.0"/>
<path d="M862.0,927.0 C865.8,930.3 877.8,940.7 885.0,947.0 C892.2,953.3 898.0,960.2 905.0,965.0 C912.0,969.8 923.3,974.2 927.0,976.0" style="fill:none;stroke:#151515;stroke-width:5.40;opacity:0.30;stroke-linecap:round;stroke-linejoin:round"/>
<path class="k" d="M862.0,927.0 C865.8,930.3 877.8,940.7 885.0,947.0 C892.2,953.3 898.0,960.2 905.0,965.0 C912.0,969.8 923.3,974.2 927.0,976.0"/>
<path d="M330.0,995.0 C324.5,999.7 293.7,1021.5 289.0,1030.0 C284.3,1038.5 287.2,1050.5 295.0,1059.0 C302.8,1067.5 328.8,1085.5 347.5,1094.0 C366.2,1102.5 406.3,1116.3 435.0,1123.0 C463.7,1129.7 524.1,1143.2 563.0,1144.0 C601.9,1144.8 689.7,1136.5 727.0,1129.0 C764.3,1121.5 819.7,1098.8 843.0,1088.0 C866.3,1077.2 892.7,1056.5 902.0,1048.0 C911.3,1039.5 917.0,1031.9 913.0,1024.0 C909.0,1016.1 877.5,993.7 872.0,989.0" style="fill:none;stroke:#151515;stroke-width:5.40;opacity:0.30;stroke-linecap:round;stroke-linejoin:round"/>
<path class="k" d="M330.0,995.0 C324.5,999.7 293.7,1021.5 289.0,1030.0 C284.3,1038.5 287.2,1050.5 295.0,1059.0 C302.8,1067.5 328.8,1085.5 347.5,1094.0 C366.2,1102.5 406.3,1116.3 435.0,1123.0 C463.7,1129.7 524.1,1143.2 563.0,1144.0 C601.9,1144.8 689.7,1136.5 727.0,1129.0 C764.3,1121.5 819.7,1098.8 843.0,1088.0 C866.3,1077.2 892.7,1056.5 902.0,1048.0 C911.3,1039.5 917.0,1031.9 913.0,1024.0 C909.0,1016.1 877.5,993.7 872.0,989.0"/>
<path class="d" d="M697.0,344.0 L744.0,350.0"/>
<path class="d" d="M697.0,344.0 L458.0,528.0"/>
<path class="d" d="M711.0,368.0 L470.0,533.0"/>
<path class="d" d="M686.0,398.0 L292.0,910.0"/>
<path class="d" d="M744.0,350.0 L578.0,912.0"/>
<path class="d" d="M326.0,910.0 L578.0,912.0"/>
<path d="M579,437 C587,430 597,428 608,429 C614,430 617,434 615,439 C605,441 592,441 582,441 Z" fill="#84cff0" stroke="#151515" stroke-width="2.6" stroke-linejoin="round"/>
<g stroke="#e0202a" stroke-linecap="round" fill="none">
<path d="M695,335 L778,349" stroke-width="8"/>
<path d="M735,301 L735,337" stroke-width="4"/>
<path d="M719,327 L755,327" stroke-width="4"/>
</g>
</svg>
</body></html>
